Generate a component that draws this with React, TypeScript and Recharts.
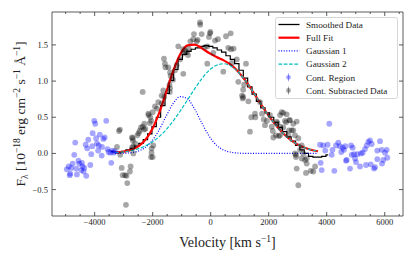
import { ComposedChart, Line, Scatter, XAxis, YAxis, Legend, Label } from "recharts";

// fit curves sampled on a common velocity grid (km/s)
const FIT_V = [-3300, -3050, -2800, -2550, -2300, -2050, -1800, -1550, -1300, -1050, -800, -550, -300, -50, 200, 450, 700, 950, 1200, 1450, 1700, 1950, 2200, 2450, 2700, 2950, 3200, 3450, 3700];
const GAUSS1 = [0.0, 0.002, 0.008, 0.026, 0.07, 0.161, 0.31, 0.503, 0.686, 0.785, 0.755, 0.611, 0.416, 0.238, 0.114, 0.046, 0.016, 0.005, 0.001, 0, 0, 0, 0, 0, 0, 0, 0, 0, 0];
const GAUSS2 = [0.01, 0.019, 0.034, 0.058, 0.095, 0.149, 0.224, 0.322, 0.444, 0.586, 0.739, 0.894, 1.036, 1.149, 1.219, 1.24, 1.207, 1.125, 1.004, 0.858, 0.702, 0.55, 0.413, 0.296, 0.204, 0.134, 0.085, 0.051, 0.03];
const FULL_FIT = [0.01, 0.021, 0.042, 0.084, 0.165, 0.31, 0.534, 0.825, 1.13, 1.371, 1.494, 1.505, 1.452, 1.387, 1.333, 1.286, 1.223, 1.13, 1.005, 0.858, 0.702, 0.55, 0.413, 0.296, 0.204, 0.134, 0.085, 0.051, 0.03];

// smoothed data (drawn as steps)
const SMOOTH_V = [-3450, -3300, -3150, -3000, -2850, -2700, -2550, -2400, -2250, -2100, -1950, -1800, -1650, -1500, -1350, -1200, -1050, -900, -750, -600, -450, -300, -150, 0, 150, 300, 450, 600, 750, 900, 1050, 1200, 1350, 1500, 1650, 1800, 1950, 2100, 2250, 2400, 2550, 2700, 2850, 3000, 3150, 3300, 3450, 3600, 3750, 3900, 4050];
const SMOOTHED = [0.03, 0.02, 0.02, 0.03, 0.05, 0.07, 0.1, 0.14, 0.19, 0.27, 0.37, 0.5, 0.66, 0.83, 1.01, 1.16, 1.3, 1.37, 1.41, 1.44, 1.46, 1.48, 1.49, 1.48, 1.46, 1.43, 1.4, 1.35, 1.3, 1.24, 1.15, 1.04, 0.92, 0.82, 0.72, 0.63, 0.56, 0.5, 0.43, 0.36, 0.3, 0.23, 0.17, 0.11, 0.05, 0.0, -0.04, -0.05, -0.05, -0.04, -0.02];

// continuum region points [velocity, flux]
const CONT_REGION = [
  [-4013, 0.45], [-3979, 0.41], [-3600, 0.45], [-4069, 0.28], [-4220, 0.19], [-4669, 0.15], [-3920, 0.14], [-3655, 0.22],
  [-3700, 0.2], [-3862, 0.11], [-3748, 0.09], [-4255, 0.07], [-4117, -0.01], [-3758, -0.03], [-4703, -0.02], [-3517, 0.02],
  [-3460, 0.01], [-3345, 0.01], [-3427, -0.13], [-4531, -0.14], [-4438, -0.13], [-4758, -0.14], [-4896, -0.18], [-4806, -0.2],
  [-4634, -0.21], [-4358, -0.2], [-4380, -0.25], [-4289, -0.31], [-4841, -0.28], [-4610, -0.29], [-4860, -0.3], [-4460, -0.23],
  [-3950, 0.21], [-3560, 0.06], [-4150, -0.16], [-4420, -0.18], [-4960, -0.22], [-4560, -0.1], [-3300, 0.03], [-3390, 0.04],
  [-3880, 0.04], [-4310, 0.12], [-3820, 0.26], [-4080, 0.1],
  [4090, 0.41], [3770, 0.12], [3880, 0.11], [4030, 0.12], [4200, 0.05], [4263, -0.24], [3827, -0.23], [3793, -0.13],
  [4172, -0.02], [4665, -0.1], [4803, -0.21], [5010, -0.12], [5148, -0.18], [5355, -0.16], [5665, -0.19], [5907, -0.14],
  [5951, -0.09], [6089, -0.06], [6010, 0.01], [6068, 0.05], [5838, 0.17], [5493, 0.18], [5055, -0.01], [4941, -0.01],
  [4838, 0.11], [4321, 0.11], [4400, 0.15], [4458, 0.1], [4551, 0.08], [4596, 0.05], [4641, 0.1], [4896, 0.08],
  [5241, 0.01], [5320, 0.06], [5379, 0.11], [5434, 0.16], [5551, 0.13], [5744, 0.04], [5896, 0.05], [5744, -0.08],
  [5631, -0.21], [4689, -0.09], [4976, -0.07], [5517, -0.15], [4862, -0.02], [5180, 0.0], [4500, 0.02], [3950, 0.04],
];

// continuum subtracted data [velocity, flux]
const CONT_SUB = [
  [-3160, 0.31], [-3130, 0.33], [-3230, 0.09], [-3117, -0.02], [-3069, -0.2], [-3034, -0.3], [-2950, -0.3], [-2900, -0.31],
  [-2875, -0.41], [-2920, -0.71], [-2783, -0.25], [-2760, -0.18], [-2713, 0.22], [-2680, 0.18], [-2669, 0.0], [-2690, 0.21],
  [-2600, 0.14], [-2670, 0.1], [-2710, 0.08], [-2530, 0.25], [-2483, 0.28], [-2450, 0.31], [-2403, 0.36], [-2345, 0.37],
  [-2300, 0.33], [-2289, 0.41], [-2250, 0.34], [-2345, 0.85], [-2150, 0.55], [-2138, 0.53], [-2100, 0.42], [-2080, 0.5],
  [-2050, 0.45], [-2034, 0.07], [-2040, 0.01], [-1979, 0.11], [-2000, -0.05], [-2058, -0.05], [-2000, 0.57], [-1920, 0.65],
  [-1850, 0.62], [-1807, 0.71], [-1690, 0.69], [-1690, 0.8], [-1634, 0.87], [-1600, 0.78],
  [-1610, 1.31], [-1576, 1.24], [-1560, 1.19], [-1462, 1.19], [-1400, 1.12], [-1380, 1.07], [-1420, 0.95], [-1400, 0.9],
  [-1410, 0.85], [-1300, 1.02], [-1231, 1.15], [-1172, 1.22], [-1117, 1.48], [-1058, 1.3], [-950, 1.44], [-944, 1.38],
  [-944, 1.1], [-880, 1.42], [-820, 1.4], [-780, 1.36], [-760, 1.45], [-700, 1.55], [-576, 1.65], [-480, 1.55],
  [-450, 1.57], [-369, 1.81], [-360, 1.78], [-311, 1.65], [-200, 1.47], [-117, 1.24], [-110, 1.48], [-58, 1.61],
  [-24, 1.66], [-10, 1.68], [90, 1.39], [150, 1.56], [250, 1.58], [-600, 1.58],
  [435, 1.13], [528, 1.62], [607, 1.46], [690, 1.66], [700, 1.44], [730, 1.25], [790, 1.45], [900, 1.3],
  [952, 0.99], [1080, 0.8], [1103, 0.76], [1120, 0.88], [1124, 0.78], [1150, 0.95], [1217, 1.24], [1300, 0.72],
  [1355, 0.3], [1400, 0.5], [1528, 0.55], [1540, 0.5], [1700, 0.71], [1770, 0.55], [1830, 0.47], [1872, 0.39],
  [1940, 0.45], [2045, 0.53], [2104, 0.37], [2140, 0.31], [2160, 0.22], [2250, 0.25], [2276, 0.44], [2300, 0.42],
  [2350, 0.24], [2390, 0.25], [2390, 0.53], [2400, 0.37], [2448, 0.57], [2500, 0.36], [2503, 0.56], [2562, 0.45],
  [2600, 0.43], [2620, 0.54], [2680, 0.25], [2700, 0.32], [2710, 0.46], [2734, 0.46], [2793, 0.32], [2848, 0.41],
  [2848, 0.32], [2907, 0.25], [2907, 0.0], [2940, -0.02], [2941, -0.05], [2965, 0.44], [2965, -0.21], [3021, 0.21],
  [3021, -0.44], [3080, 0.05], [3138, 0.11], [3138, -0.07], [3193, 0.0], [3251, -0.09], [3286, -0.27], [3310, -0.14],
  [3310, -0.07], [3448, -0.24], [3538, -0.25], [3600, -0.18],
];

const X_MAJOR = [-4000, -2000, 0, 2000, 4000, 6000];
const X_MINOR = [-5000, -4500, -3500, -3000, -2500, -1500, -1000, -500, 500, 1000, 1500, 2500, 3000, 3500, 4500, 5000, 5500, 6500];
const Y_MAJOR = [-0.5, 0, 0.5, 1, 1.5];
const X_DOMAIN = [-5470, 6630];
const Y_DOMAIN = [-0.865, 1.955];

const FONT = "'Liberation Serif', 'DejaVu Serif', serif";
const INK = "#222";

const toPts = (xs: number[], ys: number[]) => xs.map((v, i) => ({ v, f: ys[i] }));
const g1Data = toPts(FIT_V, GAUSS1);
const g2Data = toPts(FIT_V, GAUSS2);
const fullData = toPts(FIT_V, FULL_FIT);
const smoothData = toPts(SMOOTH_V, SMOOTHED);
const contData = CONT_REGION.map(([v, f]) => ({ v, f }));
const subData = CONT_SUB.map(([v, f]) => ({ v, f }));
const xTicks = [...X_MAJOR, ...X_MINOR].sort((a, b) => a - b);

const fmt = (n: number, d: number) => (n < 0 ? "\u2212" : "") + Math.abs(n).toFixed(d);

const BottomTick = (p: any) => {
  const major = X_MAJOR.includes(p.payload.value);
  return (
    <g>
      <line x1={p.x} x2={p.x} y1={p.y} y2={p.y - (major ? 4 : 2)} stroke="#333" strokeWidth={0.8} />
      {major && (
        <text x={p.x} y={p.y + 8.5} textAnchor="middle" fontSize={8.5} fontFamily={FONT} fill={INK}>
          {fmt(p.payload.value, 0)}
        </text>
      )}
    </g>
  );
};

const TopTick = (p: any) => {
  const major = X_MAJOR.includes(p.payload.value);
  return <line x1={p.x} x2={p.x} y1={p.y} y2={p.y + (major ? 4 : 2)} stroke="#333" strokeWidth={0.8} />;
};

const LeftTick = (p: any) => (
  <g>
    <line x1={p.x} x2={p.x + 4} y1={p.y} y2={p.y} stroke="#333" strokeWidth={0.8} />
    <text x={p.x - 4} y={p.y + 3} textAnchor="end" fontSize={8.5} fontFamily={FONT} fill={INK}>
      {fmt(p.payload.value, 1)}
    </text>
  </g>
);

const RightTick = (p: any) => <line x1={p.x} x2={p.x - 4} y1={p.y} y2={p.y} stroke="#333" strokeWidth={0.8} />;

const XTitle = (props: any) => {
  const vb = props.viewBox;
  return (
    <text x={vb.x + vb.width / 2} y={vb.y + 31} textAnchor="middle" fontSize={14} fontFamily={FONT} fill={INK}>
      Velocity [km s<tspan dy={-5.5} fontSize={9.5}>{"\u22121"}</tspan>
      <tspan dy={5.5}>]</tspan>
    </text>
  );
};

const YTitle = (props: any) => {
  const vb = props.viewBox;
  const cx = vb.x + 25;
  const cy = vb.y + vb.height / 2;
  return (
    <text x={cx} y={cy} transform={`rotate(-90, ${cx}, ${cy})`} textAnchor="middle" fontSize={13.5} fontFamily={FONT} fill={INK}>
      F<tspan dy={3} fontSize={9.5}>λ</tspan>
      <tspan dy={-3}> [10</tspan>
      <tspan dy={-5.5} fontSize={9.5}>{"\u221218"}</tspan>
      <tspan dy={5.5}> erg cm</tspan>
      <tspan dy={-5.5} fontSize={9.5}>{"\u22122"}</tspan>
      <tspan dy={5.5}> s</tspan>
      <tspan dy={-5.5} fontSize={9.5}>{"\u22121"}</tspan>
      <tspan dy={5.5}> Å</tspan>
      <tspan dy={-5.5} fontSize={9.5}>{"\u22121"}</tspan>
      <tspan dy={5.5}>]</tspan>
    </text>
  );
};

const LEGEND_ITEMS = [
  { name: "Smoothed Data", kind: "line", color: "#000000", width: 1.3, dash: "" },
  { name: "Full Fit", kind: "line", color: "#ff0000", width: 2.2, dash: "" },
  { name: "Gaussian 1", kind: "line", color: "#0000ff", width: 1.2, dash: "1 1.6" },
  { name: "Gaussian 2", kind: "line", color: "#00bfbf", width: 1.2, dash: "3.7 1.6" },
  { name: "Cont. Region", kind: "dot", color: "#0000ff", width: 1, dash: "" },
  { name: "Cont. Subtracted Data", kind: "dot", color: "#000000", width: 1, dash: "" },
];

const renderLegend = () => (
  <svg width={124} height={83} style={{ display: "block" }}>
    <rect x={0.5} y={0.5} width={122} height={81} rx={2} fill="#ffffff" fillOpacity={0.8} stroke="#cccccc" strokeWidth={0.8} />
    {LEGEND_ITEMS.map((it, i) => {
      const y = 7.5 + i * 13.2;
      return (
        <g key={it.name}>
          {it.kind === "line" ? (
            <line x1={3.5} x2={24.5} y1={y} y2={y} stroke={it.color} strokeWidth={it.width} strokeDasharray={it.dash} />
          ) : (
            <g>
              <line x1={13.5} x2={13.5} y1={y - 4} y2={y + 4} stroke={it.color} strokeOpacity={0.35} strokeWidth={1} />
              <circle cx={13.5} cy={y} r={2.4} fill={it.color} fillOpacity={0.35} />
            </g>
          )}
          <text x={31} y={y + 3.2} fontSize={9.2} fontFamily={FONT} fill={INK}>
            {it.name}
          </text>
        </g>
      );
    })}
  </svg>
);

const blueDot = (p: any) => <circle cx={p.cx} cy={p.cy} r={2.9} fill="#0000ff" fillOpacity={0.35} />;
const grayDot = (p: any) => <circle cx={p.cx} cy={p.cy} r={2.9} fill="#000000" fillOpacity={0.35} />;

export default function App() {
  return (
    <div style={{ position: "absolute", left: 0, top: 0, width: 415, height: 257, background: "#fff" }}>
      <ComposedChart width={415} height={257} margin={{ top: 0, right: 0, bottom: 0, left: 0 }}>
        <XAxis xAxisId="x" dataKey="v" type="number" domain={X_DOMAIN} allowDataOverflow ticks={xTicks} interval={0}
          tickSize={0} tickMargin={0} tickLine={false} tick={BottomTick} height={41}
          axisLine={{ stroke: "#333", strokeWidth: 0.8 }}>
          <Label content={XTitle} />
        </XAxis>
        <XAxis xAxisId="top" orientation="top" dataKey="v" type="number" domain={X_DOMAIN} allowDataOverflow ticks={xTicks} interval={0}
          tickSize={0} tickMargin={0} tickLine={false} tick={TopTick} height={12}
          axisLine={{ stroke: "#333", strokeWidth: 0.8 }} />
        <YAxis yAxisId="y" dataKey="f" type="number" domain={Y_DOMAIN} allowDataOverflow ticks={Y_MAJOR} interval={0}
          tickSize={0} tickMargin={0} tickLine={false} tick={LeftTick} width={52}
          axisLine={{ stroke: "#333", strokeWidth: 0.8 }}>
          <Label content={YTitle} />
        </YAxis>
        <YAxis yAxisId="right" orientation="right" dataKey="f" type="number" domain={Y_DOMAIN} allowDataOverflow ticks={Y_MAJOR} interval={0}
          tickSize={0} tickMargin={0} tickLine={false} tick={RightTick} width={12}
          axisLine={{ stroke: "#333", strokeWidth: 0.8 }} />

        <Scatter xAxisId="x" yAxisId="y" name="Cont. Region" data={contData} dataKey="f" shape={blueDot} isAnimationActive={false} />
        <Scatter xAxisId="x" yAxisId="y" name="Cont. Subtracted Data" data={subData} dataKey="f" shape={grayDot} isAnimationActive={false} />

        <Line xAxisId="x" yAxisId="y" name="Smoothed Data" data={smoothData} dataKey="f" type="step" stroke="#000000"
          strokeWidth={1.2} dot={false} activeDot={false} isAnimationActive={false} />
        <Line xAxisId="x" yAxisId="y" name="Full Fit" data={fullData} dataKey="f" type="monotone" stroke="#ff0000"
          strokeWidth={2.2} dot={false} activeDot={false} isAnimationActive={false} />
        <Line xAxisId="x" yAxisId="y" name="Gaussian 1" data={g1Data} dataKey="f" type="monotone" stroke="#0000ff"
          strokeWidth={1.2} strokeDasharray="1 1.6" dot={false} activeDot={false} isAnimationActive={false} />
        <Line xAxisId="x" yAxisId="y" name="Gaussian 2" data={g2Data} dataKey="f" type="monotone" stroke="#00bfbf"
          strokeWidth={1.2} strokeDasharray="3.7 1.6" dot={false} activeDot={false} isAnimationActive={false} />

        <Legend layout="vertical" align="center" verticalAlign="middle" content={renderLegend}
          wrapperStyle={{ position: "absolute", left: 275, top: 17, width: 124, height: 83, margin: 0, padding: 0 }} />
      </ComposedChart>
    </div>
  );
}
